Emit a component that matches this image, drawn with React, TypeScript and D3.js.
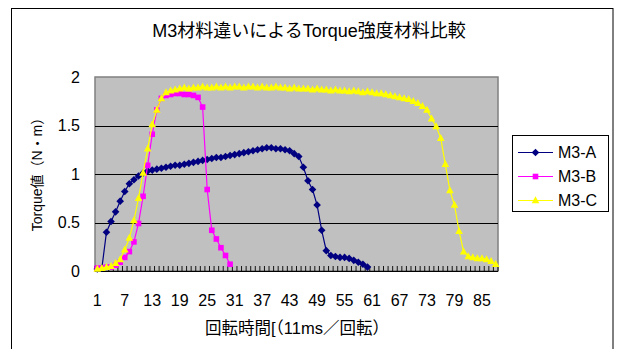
import React from "react";
import * as d3 from "d3";

// Torque readings per revolution index (N·m)
const seriesA = [
  0.02, 0.03, 0.40, 0.51, 0.61, 0.72, 0.82, 0.90, 0.94, 0.98,
  1.01, 1.03, 1.04, 1.05, 1.06, 1.07, 1.08, 1.09, 1.09, 1.10,
  1.11, 1.12, 1.13, 1.14, 1.15, 1.16, 1.17, 1.17, 1.18, 1.19,
  1.20, 1.21, 1.22, 1.23, 1.24, 1.25, 1.26, 1.27, 1.27, 1.26,
  1.26, 1.25, 1.24, 1.21, 1.18, 1.07, 0.93, 0.84, 0.68, 0.42,
  0.21, 0.16, 0.15, 0.14, 0.14, 0.13, 0.11, 0.09, 0.07, 0.04,
];
const seriesB = [
  0.03, 0.03, 0.04, 0.04, 0.06, 0.09, 0.14, 0.20, 0.30, 0.49,
  0.77, 1.09, 1.41, 1.66, 1.78, 1.81, 1.82, 1.83, 1.83, 1.82,
  1.82, 1.81, 1.79, 1.69, 0.84, 0.42, 0.33, 0.24, 0.16, 0.07,
];
const seriesC = [
  0.02, 0.03, 0.04, 0.05, 0.08, 0.12, 0.22, 0.34, 0.52, 0.75,
  1.01, 1.26, 1.51, 1.66, 1.78, 1.84, 1.86, 1.87, 1.88, 1.89,
  1.88, 1.89, 1.89, 1.90, 1.89, 1.89, 1.90, 1.89, 1.90, 1.89,
  1.90, 1.90, 1.89, 1.90, 1.90, 1.89, 1.90, 1.89, 1.89, 1.90,
  1.89, 1.89, 1.88, 1.89, 1.88, 1.88, 1.88, 1.87, 1.88, 1.87,
  1.87, 1.86, 1.87, 1.86, 1.86, 1.85, 1.86, 1.85, 1.84, 1.85,
  1.84, 1.83, 1.83, 1.82, 1.81, 1.80, 1.79, 1.78, 1.77, 1.75,
  1.73, 1.70, 1.66, 1.57, 1.49, 1.37, 1.10, 0.83, 0.68, 0.41,
  0.20, 0.15, 0.14, 0.13, 0.13, 0.12, 0.10, 0.07,
];
const categories = d3.range(1, 89);
const xTickLabels = [1, 7, 13, 19, 25, 31, 37, 43, 49, 55, 61, 67, 73, 79, 85];
const yTicks = [0, 0.5, 1, 1.5, 2];
const seriesNames = ["M3-A", "M3-B", "M3-C"];

const FONT = "'Liberation Sans', 'Noto Sans CJK JP', sans-serif";

type Marker = "diamond" | "square" | "triangle";
const styles: { color: string; marker: Marker }[] = [
  { color: "#000080", marker: "diamond" },
  { color: "#FF00FF", marker: "square" },
  { color: "#FFFF00", marker: "triangle" },
];

function MarkerShape({ kind, x, y, color }: { kind: Marker; x: number; y: number; color: string }) {
  if (kind === "diamond") {
    const r = 3.8;
    return <path d={`M${x},${y - r}L${x + r},${y}L${x},${y + r}L${x - r},${y}Z`} fill={color} />;
  }
  if (kind === "square") {
    const s = 5.6;
    return <rect x={x - s / 2} y={y - s / 2} width={s} height={s} fill={color} />;
  }
  const h = 7;
  return (
    <path d={`M${x},${y - h * 0.6}L${x + 3.8},${y + h * 0.4}L${x - 3.8},${y + h * 0.4}Z`} fill={color} />
  );
}

export default function App() {
  const W = 619, H = 349;
  const plot = { left: 95, right: 498, top: 77, bottom: 271 };

  const x = d3.scaleBand<number>().domain(categories).range([plot.left, plot.right]).padding(0);
  const cx = (c: number) => (x(c) as number) + x.bandwidth() / 2;
  const y = d3.scaleLinear().domain([0, 2]).range([plot.bottom, plot.top]);

  const line = d3
    .line<number>()
    .x((_, i) => cx(categories[i]))
    .y((v) => y(v));

  const allSeries = [seriesA, seriesB, seriesC];
  const boundaries = [...categories.map((c) => x(c) as number), plot.right];

  return (
    <svg
      width={W}
      height={H}
      style={{ position: "absolute", left: 0, top: 0, background: "#fff" }}
      fontFamily={FONT}
    >
      {/* chart frame */}
      <rect x={11.5} y={8.5} width={601.5} height={360} fill="#fff" stroke="#000" strokeWidth={1} />

      <text x={309} y={37} textAnchor="middle" fontSize={18} fill="#000">
        M3材料違いによるTorque強度材料比較
      </text>

      {/* plot area */}
      <rect
        x={plot.left}
        y={plot.top}
        width={plot.right - plot.left}
        height={plot.bottom - plot.top}
        fill="#C0C0C0"
        stroke="#808080"
        strokeWidth={1.5}
      />
      {yTicks.slice(1, -1).map((t) => (
        <line key={t} x1={plot.left} x2={plot.right} y1={Math.round(y(t)) + 0.5} y2={Math.round(y(t)) + 0.5} stroke="#000" strokeWidth={1} />
      ))}
      <line x1={plot.left} x2={plot.right} y1={plot.bottom + 0.5} y2={plot.bottom + 0.5} stroke="#000" strokeWidth={1.2} />
      {boundaries.map((bx, i) => (
        <line key={i} x1={bx} x2={bx} y1={plot.bottom - 5} y2={plot.bottom} stroke="#000" strokeWidth={0.9} />
      ))}

      {/* y tick labels */}
      {yTicks.map((t) => (
        <text key={t} x={80} y={y(t)} dy="0.36em" textAnchor="end" fontSize={16} fill="#000">
          {t}
        </text>
      ))}
      {/* x tick labels */}
      {xTickLabels.map((c) => (
        <text key={c} x={cx(c)} y={300} dy="0.36em" textAnchor="middle" fontSize={16} fill="#000">
          {c}
        </text>
      ))}

      <text x={297} y={328} dy="0.36em" textAnchor="middle" fontSize={16.5} fill="#000">
        回転時間[（11ms／回転）
      </text>
      <text
        transform={`translate(37,171) rotate(-90)`}
        dy="0.36em"
        textAnchor="middle"
        fontSize={14}
        fill="#000"
      >
        Torque値（N・m）
      </text>

      {/* series */}
      <g>
        {allSeries.map((s, si) => (
          <g key={si}>
            <path d={line(s) || ""} fill="none" stroke={styles[si].color} strokeWidth={1.2} />
            {s.map((v, i) => (
              <MarkerShape key={i} kind={styles[si].marker} x={cx(categories[i])} y={y(v)} color={styles[si].color} />
            ))}
          </g>
        ))}
      </g>

      {/* legend */}
      <rect x={512.5} y={135.5} width={96} height={76} fill="#fff" stroke="#000" strokeWidth={1} />
      {seriesNames.map((name, i) => {
        const ly = 152.5 + i * 24;
        return (
          <g key={name}>
            <line x1={518} x2={553} y1={ly} y2={ly} stroke={styles[i].color} strokeWidth={1.2} />
            <MarkerShape kind={styles[i].marker} x={535.5} y={ly} color={styles[i].color} />
            <text x={558} y={ly} dy="0.36em" fontSize={16} fill="#000">
              {name}
            </text>
          </g>
        );
      })}
    </svg>
  );
}
